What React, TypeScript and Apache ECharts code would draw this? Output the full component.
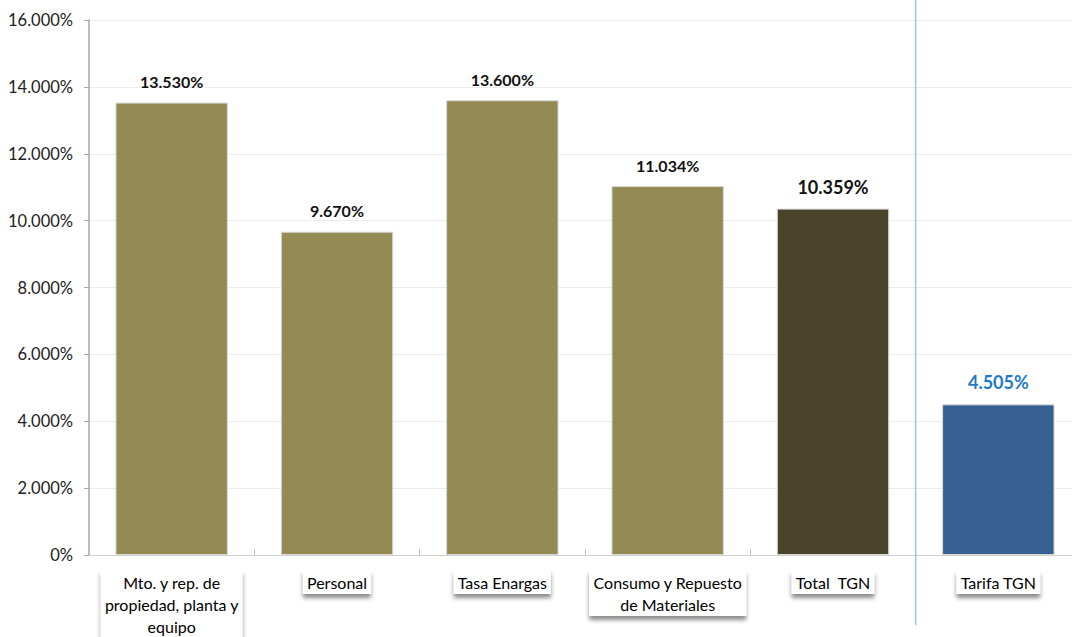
import React, { useEffect, useRef } from "react";
import * as echarts from "echarts";

const categories = [
  "Mto. y rep. de\npropiedad, planta y\nequipo",
  "Personal",
  "Tasa Enargas",
  "Consumo y Repuesto\nde Materiales",
  "Total  TGN",
  "Tarifa TGN",
];
const values = [13.53, 9.67, 13.6, 11.034, 10.359, 4.505];
const barColors = ["#948A54", "#948A54", "#948A54", "#948A54", "#494429", "#366092"];
const labelColors = ["#111", "#111", "#111", "#111", "#111", "#1F7BC8"];
const labelSizes = [16, 16, 16, 16, 18, 18];
const yTicks = { min: 0, max: 16, interval: 2 };

const FONT = "Lato, 'Open Sans', sans-serif";

export default function App() {
  const ref = useRef<HTMLDivElement>(null);
  useEffect(() => {
    document.body.style.margin = "0";
    const chart = echarts.init(ref.current!, null, { renderer: "svg" });
    const option: any = {
      animation: false,
      grid: { left: 89, top: 20, bottom: 82, right: -9, outerBoundsMode: "none" },
      xAxis: {
        type: "category",
        data: categories,
        axisLine: { show: true, lineStyle: { color: "#d0d0d0", width: 1 } },
        axisTick: { show: true, inside: true, length: 6, lineStyle: { color: "#bfbfbf" } },
        axisLabel: {
          interval: 0,
          margin: 15,
          fontFamily: FONT,
          fontSize: 16,
          color: "#000",
          lineHeight: 22,
          backgroundColor: "#fff",
          padding: [1, 4, 1, 4],
          shadowColor: "rgba(0,0,0,0.45)",
          shadowBlur: 4,
          shadowOffsetX: 0,
          shadowOffsetY: 4,
          verticalAlign: "top",
        },
      },
      yAxis: {
        type: "value",
        min: yTicks.min,
        max: yTicks.max,
        interval: yTicks.interval,
        axisLine: { show: true, lineStyle: { color: "#a6a6a6", width: 1.5 } },
        axisTick: { show: true, length: 5, lineStyle: { color: "#a6a6a6" } },
        splitLine: { lineStyle: { color: "#ececec", width: 1 } },
        axisLabel: {
          fontFamily: FONT,
          fontSize: 16.5,
          color: "#222",
          margin: 16,
          formatter: (v: number) => (v === 0 ? "0%" : v.toFixed(3) + "%"),
        },
      },
      series: [
        {
          type: "bar",
          barCategoryGap: "32%",
          data: values.map((v, i) => ({
            value: v,
            itemStyle: { color: barColors[i], borderColor: "#d9d9d9", borderWidth: 1 },
            label: {
              show: true,
              position: "top",
              distance: 13,
              fontFamily: FONT,
              fontWeight: "bold",
              fontSize: labelSizes[i],
              color: labelColors[i],
              formatter: (p: any) => p.value.toFixed(3) + "%",
            },
          })),
        },
      ],
    };
    chart.setOption(option);
    const x0 = chart.convertToPixel({ xAxisIndex: 0 }, categories[4]) as number;
    const x1 = chart.convertToPixel({ xAxisIndex: 0 }, categories[5]) as number;
    const xs = (x0 + x1) / 2;
    chart.setOption({
      graphic: [
        {
          type: "line",
          shape: { x1: xs, y1: 0, x2: xs, y2: 625 },
          style: { stroke: "#9DC3E6", lineWidth: 1.5 },
          z: 10,
        },
      ],
    });
    return () => chart.dispose();
  }, []);
  return <div ref={ref} style={{ width: 1072, height: 637 }} />;
}
